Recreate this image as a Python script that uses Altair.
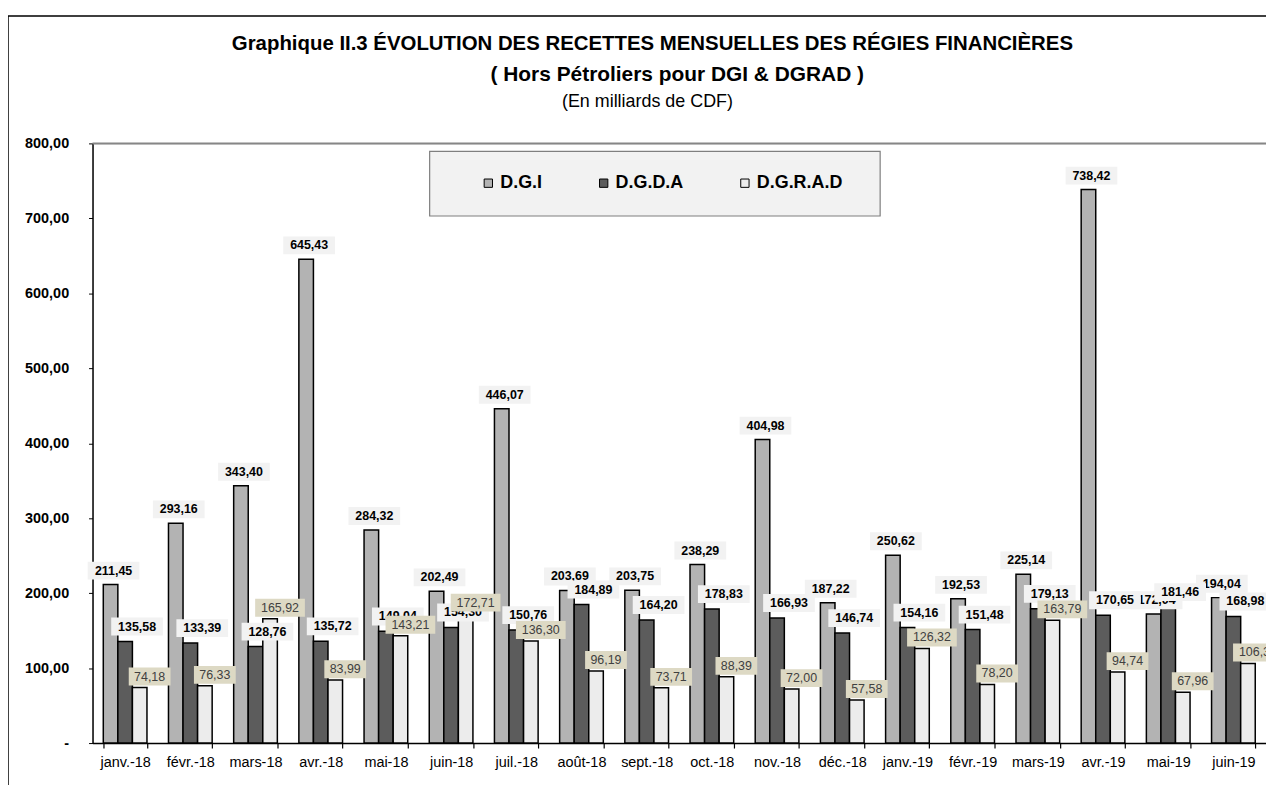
import altair as alt
import pandas as pd

months = ["janv.-18", "févr.-18", "mars-18", "avr.-18", "mai-18", "juin-18",
          "juil.-18", "août-18", "sept.-18", "oct.-18", "nov.-18", "déc.-18",
          "janv.-19", "févr.-19", "mars-19", "avr.-19", "mai-19", "juin-19"]
dgi = [211.45, 293.16, 343.40, 645.43, 284.32, 202.49, 446.07, 203.69, 203.75,
       238.29, 404.98, 187.22, 250.62, 192.53, 225.14, 738.42, 172.04, 194.04]
dgda = [135.58, 133.39, 128.76, 135.72, 149.04, 154.30, 150.76, 184.89, 164.20,
        178.83, 166.93, 146.74, 154.16, 151.48, 179.13, 170.65, 181.46, 168.98]
dgrad = [74.18, 76.33, 165.92, 83.99, 143.21, 172.71, 136.30, 96.19, 73.71,
         88.39, 72.00, 57.58, 126.32, 78.20, 163.79, 94.74, 67.96, 106.30]
series = ["D.G.I", "D.G.D.A", "D.G.R.A.D"]
y_ticks = [0, 100, 200, 300, 400, 500, 600, 700, 800]

rows = []
for s, vals in zip(series, [dgi, dgda, dgrad]):
    for m, v in zip(months, vals):
        rows.append({"mois": m, "regie": s, "valeur": v})
df = pd.DataFrame(rows)

W, H = 1180, 603
FONT = "Liberation Sans"
NARROW = "Liberation Sans Narrow, Arial Narrow, Liberation Sans"

x_enc = alt.X("mois:N", sort=months, title=None,
              scale=alt.Scale(paddingInner=0.33, paddingOuter=0.165),
              axis=alt.Axis(labelAngle=0, labelFont=FONT, labelFontSize=14.5,
                            labelColor="black", domainColor="black", domainWidth=1.5,
                            tickColor="black", tickWidth=1.2, tickSize=5, tickBand="extent",
                            labelPadding=8, grid=False))
xo_enc = alt.XOffset("regie:N", sort=series, scale=alt.Scale(paddingInner=0, paddingOuter=0))
y_enc = alt.Y("valeur:Q", title=None,
              scale=alt.Scale(domain=[0, 800], nice=False),
              axis=alt.Axis(values=y_ticks, grid=False, labelFont=FONT, labelFontSize=14.5,
                            labelFontWeight="bold", labelColor="black",
                            domainColor="black", domainWidth=1.5, tickColor="black",
                            tickSize=4, labelPadding=20,
                            labelExpr="datum.value == 0 ? '-\u00a0\u00a0' : replace(format(datum.value, '.2f'), '.', ',')"))

base = alt.Chart(df).transform_calculate(
    lbl="replace(format(datum.valeur, '.2f'), '.', ',')"
)

bars = base.mark_bar(stroke="black", strokeWidth=1.5).encode(
    x=x_enc, xOffset=xo_enc, y=y_enc,
    color=alt.Color("regie:N", sort=series,
                    scale=alt.Scale(domain=series, range=["#b3b3b3", "#5c5c5c", "#ececec"]),
                    legend=alt.Legend(orient="none", legendX=389, legendY=31,
                                      direction="horizontal", title=None,
                                      labelFont=FONT, labelFontSize=18, labelFontWeight="bold",
                                      labelColor="black", symbolType="square", symbolSize=70,
                                      symbolStrokeColor="black", symbolStrokeWidth=1,
                                      columnPadding=52, labelOffset=3, padding=0)),
)

label_specs = [
    ("D.G.I", 3, -14, "#f2f2f2", "black", "bold", "M-23,-23H29V-5H-23Z", "M-19,-23H25V-5H-19Z"),
    ("D.G.D.A", 12, -15, "#f2f2f2", "black", "bold", "M-14,-24H38V-6H-14Z", "M-10,-24H34V-6H-10Z"),
    ("D.G.R.A.D", 10, -11, "#ddd9c4", "#404040", "normal", "M-15,-20H35V-2H-15Z", "M-11,-20H31V-2H-11Z"),
]
label_layers = []
for s, dx, dy, bg, fg, fw, p6, p5 in label_specs:
    sub = base.transform_filter(alt.datum.regie == s)
    box = sub.mark_point(filled=True, fill=bg, opacity=1, size=4, strokeWidth=0).encode(
        x=alt.X("mois:N", sort=months), xOffset=alt.XOffset("regie:N", sort=series),
        y=alt.Y("valeur:Q"),
        shape=alt.condition("datum.valeur >= 100", alt.value(p6), alt.value(p5)),
    )
    txt = sub.mark_text(dx=dx, dy=dy, font=FONT, fontSize=12.5, fontWeight=fw, color=fg,
                        align="center", baseline="middle").encode(
        x=alt.X("mois:N", sort=months), xOffset=alt.XOffset("regie:N", sort=series),
        y=alt.Y("valeur:Q"), text="lbl:N",
    )
    label_layers += [box, txt]

one = alt.Chart(pd.DataFrame({"k": [0]}))
border = one.mark_rect(fill=None, stroke="black", strokeWidth=1.5).encode(
    x=alt.value(-85), x2=alt.value(W + 60), y=alt.value(-128), y2=alt.value(H + 200))
top_line = alt.Chart(pd.DataFrame({"v": [800]})).mark_rule(color="#868686", strokeWidth=2).encode(
    y=alt.Y("v:Q"))
legend_box = one.mark_rect(fill="#f2f2f2", stroke="#7f7f7f", strokeWidth=1.2).encode(
    x=alt.value(339), x2=alt.value(792), y=alt.value(8), y2=alt.value(73))
t1 = one.mark_text(text="Graphique II.3 ÉVOLUTION DES RECETTES MENSUELLES DES RÉGIES FINANCIÈRES",
                   font=NARROW, fontSize=20.5, fontWeight="bold", color="black",
                   align="center", baseline="middle").encode(x=alt.value(563), y=alt.value(-100))
t2 = one.mark_text(text="( Hors Pétroliers pour DGI & DGRAD )",
                   font=FONT, fontSize=21, fontWeight="bold", color="black",
                   align="center", baseline="middle").encode(x=alt.value(588), y=alt.value(-69))
t3 = one.mark_text(text="(En milliards de CDF)",
                   font=NARROW, fontSize=18, color="black",
                   align="center", baseline="middle").encode(x=alt.value(558), y=alt.value(-42))

chart = alt.layer(border, legend_box, top_line, bars, *label_layers, t1, t2, t3).properties(
    width=W, height=H,
    autosize=alt.AutoSizeParams(type="none"),
    padding={"left": 85, "top": 134, "right": 0, "bottom": 40},
).configure_view(stroke=None).configure(background="white")

chart.save("out.html", embed_options={"renderer": "svg", "actions": False})
